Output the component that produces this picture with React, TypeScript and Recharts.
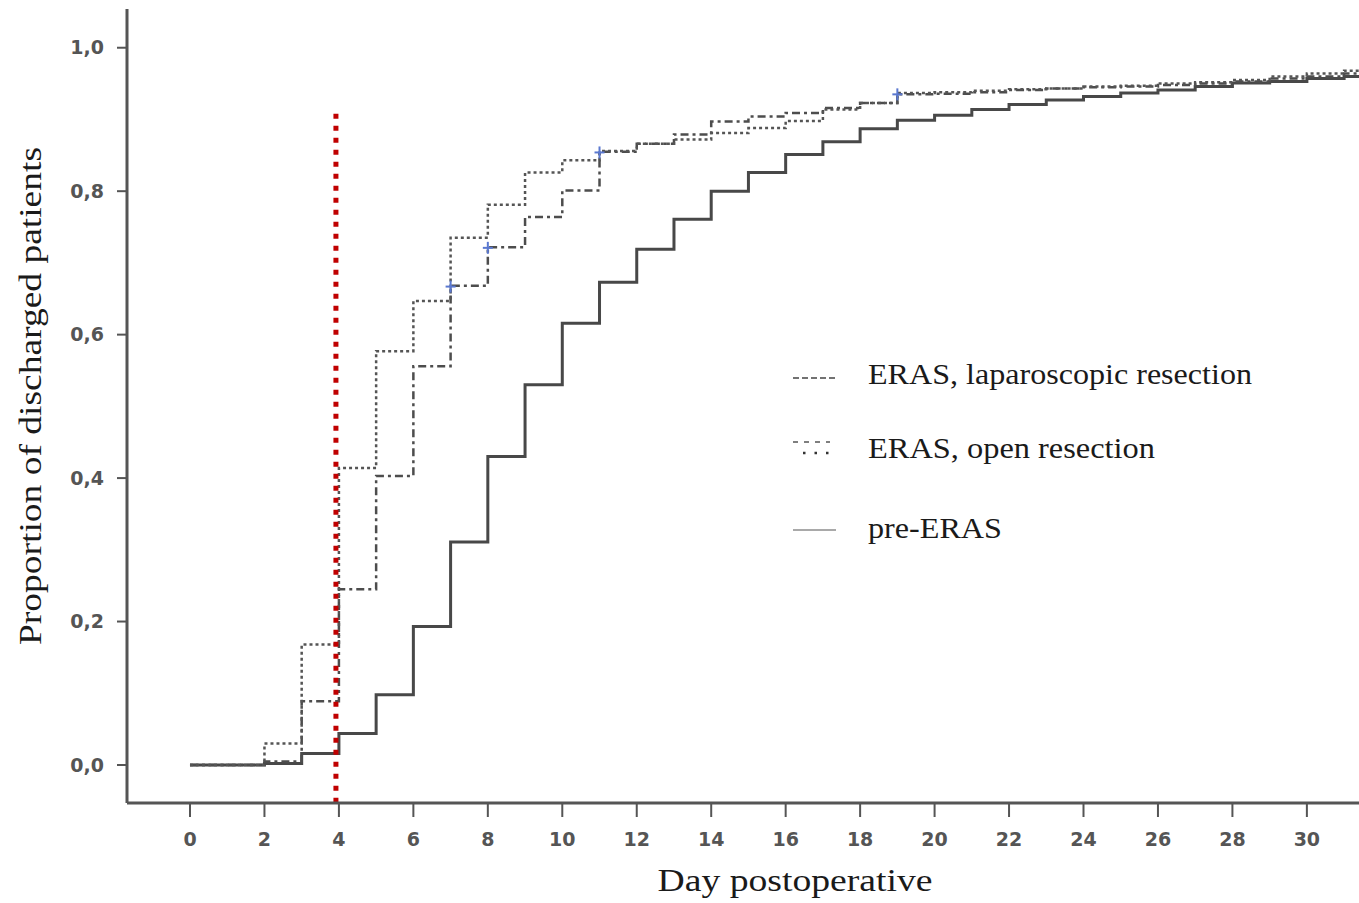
import {
  ComposedChart,
  Line,
  Scatter,
  XAxis,
  YAxis,
  ReferenceLine,
  Label,
} from "recharts"

// days 0..31, plus a tail point so the steps run to the plot edge
const days = [
  0, 1, 2, 3, 4, 5, 6, 7, 8, 9, 10, 11, 12, 13, 14, 15, 16, 17, 18, 19, 20, 21, 22, 23, 24, 25, 26, 27, 28,
  29, 30, 31, 31.4,
]

const openResection = [
  0, 0, 0.03, 0.168, 0.414, 0.577, 0.647, 0.735, 0.781, 0.826, 0.843, 0.856, 0.866, 0.872, 0.881, 0.888,
  0.898, 0.914, 0.923, 0.937, 0.938, 0.94, 0.942, 0.943, 0.946, 0.947, 0.95, 0.952, 0.955, 0.96, 0.964,
  0.968, 0.968,
]

const lapResection = [
  0, 0, 0.005, 0.089, 0.245, 0.403, 0.556, 0.668, 0.722, 0.764, 0.801, 0.855, 0.866, 0.879, 0.897, 0.904,
  0.909, 0.916, 0.923, 0.935, 0.936, 0.938, 0.941, 0.943, 0.945, 0.946, 0.948, 0.95, 0.953, 0.957, 0.96,
  0.964, 0.964,
]

const preEras = [
  0, 0, 0.002, 0.016, 0.044, 0.098, 0.193, 0.311, 0.43, 0.53, 0.616, 0.673, 0.719, 0.761, 0.8, 0.826,
  0.851, 0.869, 0.887, 0.899, 0.906, 0.914, 0.921, 0.927, 0.932, 0.937, 0.941, 0.946, 0.951, 0.953, 0.957,
  0.96, 0.96,
]

// censored observations (blue crosses)
const censorDays = [7, 8, 11, 19]
const censorValues = [0.667, 0.721, 0.854, 0.935]

const xTicks = [0, 2, 4, 6, 8, 10, 12, 14, 16, 18, 20, 22, 24, 26, 28, 30]
const yTicks = [0, 0.2, 0.4, 0.6, 0.8, 1.0]

const cutoffDay = 3.92
const cutoffTop = 0.908

const legendItems = [
  { name: "ERAS, laparoscopic resection", kind: "dash" },
  { name: "ERAS, open resection", kind: "dot" },
  { name: "pre-ERAS", kind: "solid" },
]

const rows = days.map((d, i) => ({
  day: d,
  open: openResection[i],
  lap: lapResection[i],
  pre: preEras[i],
}))

const censor = censorDays.map((d, i) => ({ day: d, v: censorValues[i] }))

const tickStyle = {
  fontFamily: "DejaVu Sans",
  fontWeight: 700,
  fontSize: 19,
  fill: "#555",
}

const serif = "Liberation Serif, Times New Roman, serif"

function Cross(props: any) {
  const { cx, cy } = props
  if (cx == null || cy == null) return null
  return (
    <g stroke="#5a78d0" strokeWidth={2}>
      <line x1={cx - 5} y1={cy} x2={cx + 5} y2={cy} />
      <line x1={cx} y1={cy - 6} x2={cx} y2={cy + 6} />
    </g>
  )
}

function LegendOverlay() {
  const rowY = [374, 448, 528]
  const widths = [384, 287, 134]
  return (
    <svg
      width={1359}
      height={903}
      style={{ position: "absolute", left: 0, top: 0, pointerEvents: "none" }}
    >
      {legendItems.map((it, i) => {
        const y = rowY[i]
        return (
          <g key={it.name}>
            {it.kind === "dash" && (
              <line x1={793} y1={y + 4} x2={835} y2={y + 4} stroke="#444" strokeWidth={1.5} strokeDasharray="6 3" />
            )}
            {it.kind === "dot" && (
              <g>
                <line x1={793} y1={y - 6} x2={830} y2={y - 6} stroke="#555" strokeWidth={1.5} strokeDasharray="5 6" />
                <line x1={803} y1={y + 5} x2={830} y2={y + 5} stroke="#333" strokeWidth={2.5} strokeDasharray="2.5 9" />
              </g>
            )}
            {it.kind === "solid" && (
              <line x1={793} y1={y + 2} x2={836} y2={y + 2} stroke="#555" strokeWidth={1.2} />
            )}
            <text
              x={868}
              y={y + 10}
              fontFamily={serif}
              fontSize={29}
              fill="#1a1a1a"
              textLength={widths[i]}
              lengthAdjust="spacingAndGlyphs"
            >
              {it.name}
            </text>
          </g>
        )
      })}
    </svg>
  )
}

export default function App() {
  return (
    <div style={{ position: "absolute", left: 0, top: 0, width: 1359, height: 903, background: "#fff" }}>
      <ComposedChart width={1359} height={903} data={rows} margin={{ top: 9, right: 0, bottom: 0, left: 0 }}>
        <XAxis
          dataKey="day"
          type="number"
          domain={[-1.692, 31.4]}
          allowDataOverflow
          ticks={xTicks}
          interval={0}
          height={100}
          tick={tickStyle}
          tickSize={14}
          tickMargin={16}
          axisLine={{ stroke: "#555", strokeWidth: 3 }}
          tickLine={{ stroke: "#555", strokeWidth: 2 }}
        >
          <Label
            content={(p: any) => {
              const vb = p.viewBox || { x: 127, y: 803, width: 1232, height: 100 }
              return (
                <text
                  x={vb.x + vb.width / 2 + 52}
                  y={vb.y + 88}
                  textAnchor="middle"
                  fontFamily={serif}
                  fontSize={31}
                  fill="#1a1a1a"
                  textLength={275}
                  lengthAdjust="spacingAndGlyphs"
                >
                  Day postoperative
                </text>
              )
            }}
          />
        </XAxis>
        <YAxis
          type="number"
          domain={[-0.053, 1.054]}
          allowDataOverflow
          ticks={yTicks}
          interval={0}
          width={127}
          tick={tickStyle}
          tickSize={10}
          tickMargin={13}
          tickFormatter={(v: number) => v.toFixed(1).replace(".", ",")}
          axisLine={{ stroke: "#555", strokeWidth: 3 }}
          tickLine={{ stroke: "#555", strokeWidth: 2 }}
        >
          <Label
            content={(p: any) => {
              const vb = p.viewBox || { x: 0, y: 9, width: 127, height: 794 }
              const cy = vb.y + vb.height / 2 - 10
              return (
                <text
                  x={41}
                  y={cy}
                  transform={`rotate(-90, 41, ${cy})`}
                  textAnchor="middle"
                  fontFamily={serif}
                  fontSize={31}
                  fill="#1a1a1a"
                  textLength={498}
                  lengthAdjust="spacingAndGlyphs"
                >
                  Proportion of discharged patients
                </text>
              )
            }}
          />
        </YAxis>
        <Line
          type="stepAfter"
          dataKey="pre"
          stroke="#484848"
          strokeWidth={3}
          dot={false}
          isAnimationActive={false}
        />
        <Line
          type="stepAfter"
          dataKey="lap"
          stroke="#4d4d4d"
          strokeWidth={2.5}
          strokeDasharray="8 4 3 4"
          dot={false}
          isAnimationActive={false}
        />
        <Line
          type="stepAfter"
          dataKey="open"
          stroke="#555"
          strokeWidth={2.5}
          strokeDasharray="3 3"
          dot={false}
          isAnimationActive={false}
        />
        <Scatter data={censor} dataKey="v" shape={<Cross />} isAnimationActive={false} />
        <ReferenceLine
          segment={[
            { x: cutoffDay, y: cutoffTop },
            { x: cutoffDay, y: -0.06 },
          ]}
          ifOverflow="visible"
          stroke="#c00000"
          strokeWidth={5}
          strokeDasharray="5 7"
        />
      </ComposedChart>
      <LegendOverlay />
    </div>
  )
}
